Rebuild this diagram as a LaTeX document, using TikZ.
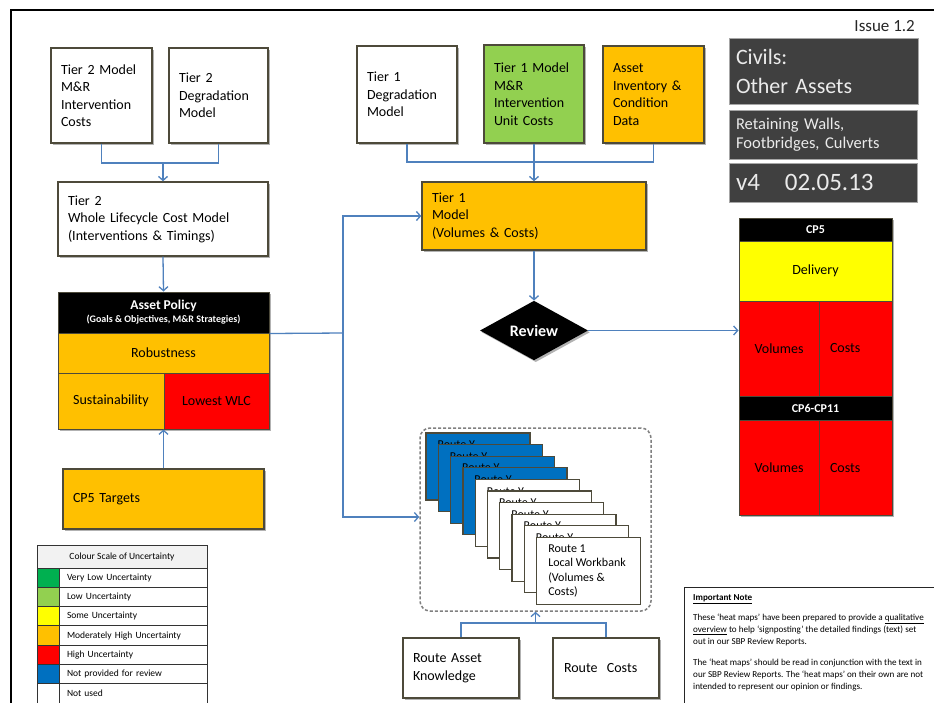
\documentclass[tikz,border=0pt]{standalone}
\usepackage{fontspec}
\setmainfont{Carlito}
\usetikzlibrary{arrows.meta,shapes.geometric,shadows,calc}

\definecolor{edge}{HTML}{4D4A3A}
\definecolor{linkblue}{HTML}{4F81BD}
\definecolor{amber}{HTML}{FFC000}
\definecolor{leaf}{HTML}{92D050}
\definecolor{hired}{HTML}{FF0000}
\definecolor{sun}{HTML}{FFFF00}
\definecolor{deepgreen}{HTML}{00B050}
\definecolor{navy}{HTML}{0070C0}
\definecolor{slate}{HTML}{404040}
\definecolor{hdrgray}{HTML}{F2F2F2}

\begin{document}
\begin{tikzpicture}[x=1pt,y=-1pt,
  shad/.style={drop shadow={shadow xshift=1.8pt,shadow yshift=-1.8pt,opacity=0.3,fill=black}},
  box/.style={rectangle,draw=edge,line width=1.4pt,fill=white,align=left,
    inner xsep=10pt,inner ysep=0pt,font=\fontsize{14}{17.5}\selectfont,shad},
  cell/.style={rectangle,draw=edge,line width=1pt,inner sep=0pt,
    font=\fontsize{14}{17}\selectfont},
  head/.style={cell,fill=black,text=white,font=\fontsize{12}{14}\selectfont\bfseries},
  titlebox/.style={rectangle,draw=gray!70,line width=0.8pt,fill=slate,text=white!92!black,
    align=left,inner xsep=7pt,inner ysep=0pt},
  card/.style={rectangle,draw=edge,line width=1.3pt,minimum width=104pt,minimum height=67pt,inner sep=0pt},
  cardtag/.style={inner sep=0pt,font=\fontsize{12}{14.5}\selectfont},
  lgcell/.style={rectangle,draw=black!80,line width=1pt,minimum height=19.3pt,inner xsep=8pt,
    inner ysep=0pt,font=\fontsize{9.5}{11}\selectfont},
  link/.style={draw=linkblue,line width=1.3pt},
  arr/.style={link,-{Straight Barb[length=4pt,width=9pt]}}
]
\useasboundingbox (0,0) rectangle (934,702);
\fill[white] (0,0) rectangle (934,702);

% page frame
\draw[line width=2pt] (11,705) -- (11,10) -- (940,10);

% ---- Tier 2 chain ----
\node[box,minimum width=101pt,minimum height=95pt,text width=81pt] (t2mr) at (101.5,95.5)
  {Tier 2 Model\\M\&R\\Intervention\\Costs};
\node[box,minimum width=99pt,minimum height=95pt,text width=79pt] (t2deg) at (218.5,95.5)
  {Tier 2\\Degradation\\Model};
\node[box,minimum width=210pt,minimum height=74pt,text width=190pt] (t2wlc) at (163,219)
  {Tier 2\\Whole Lifecycle Cost Model\\(Interventions \& Timings)};

% ---- Asset policy block ----
\node[fill=white,shad,minimum width=211pt,minimum height=137pt,inner sep=0pt] (apFrame) at (163.5,360.5) {};
\node[head,minimum width=211pt,minimum height=41pt,align=center] (apHead) at (163.5,312.5)
  {{\fontsize{13.5}{16}\selectfont\bfseries Asset Policy}\\[-1pt]{\fontsize{10}{12}\selectfont\bfseries (Goals \& Objectives, M\&R Strategies)}};
\node[cell,fill=amber,minimum width=211pt,minimum height=40pt] (apRob) at (163.5,353) {Robustness};
\node[cell,fill=amber,minimum width=106pt,minimum height=56pt] (apSus) at (111,401) {Sustainability};
\node[cell,fill=hired,minimum width=105pt,minimum height=56pt] (apWlc) at (216.5,401) {Lowest WLC};

\node[box,fill=amber,minimum width=201pt,minimum height=60pt,text width=181pt] (cp5t) at (163.5,499)
  {CP5 Targets};

% ---- Tier 1 chain ----
\node[box,minimum width=100pt,minimum height=97pt,text width=80pt] (t1deg) at (407,94.5)
  {Tier 1\\Degradation\\Model};
\node[box,fill=leaf,minimum width=100pt,minimum height=98pt,text width=80pt] (t1mr) at (534,94)
  {Tier 1 Model\\M\&R\\Intervention\\Unit Costs};
\node[box,fill=amber,minimum width=101pt,minimum height=97pt,text width=81pt] (t1inv) at (653.5,94.5)
  {Asset\\Inventory \&\\Condition\\Data};
\node[box,fill=amber,minimum width=224pt,minimum height=68pt,text width=204pt] (t1mod) at (534,216)
  {Tier 1\\Model\\(Volumes \& Costs)};
\node[diamond,fill=black,shad,minimum width=108pt,minimum height=55pt,inner sep=0pt,
  text=white,font=\fontsize{16}{18}\selectfont\bfseries] (review) at (534,330.5) {Review};

% ---- Title panel ----
\node[anchor=east,inner sep=0pt,font=\fontsize{17}{20}\selectfont,text=black!85] (issue) at (915,26) {Issue 1.2};
\node[titlebox,minimum width=189pt,minimum height=66pt,text width=175pt,
  font=\fontsize{22}{29}\selectfont] (ttl1) at (823.5,71) {Civils:\\Other Assets};
\node[titlebox,minimum width=188pt,minimum height=49pt,text width=174pt,
  font=\fontsize{16.5}{19}\selectfont] (ttl2) at (823,134.5) {Retaining Walls,\\Footbridges, Culverts};
\node[titlebox,minimum width=188pt,minimum height=39pt,text width=174pt,
  font=\fontsize{25}{28}\selectfont] (ttl3) at (823,182.5) {v4\hspace{25pt}02.05.13};

% ---- CP5 / CP6-CP11 block ----
\node[fill=white,shad,minimum width=153pt,minimum height=297pt,inner sep=0pt] (cpFrame) at (815.5,366.5) {};
\node[head,minimum width=153pt,minimum height=23pt] (cpHead) at (815.5,229.5) {CP5};
\node[cell,fill=sun,minimum width=153pt,minimum height=60pt] (cpDel) at (815.5,271) {Delivery};
\node[cell,fill=hired,minimum width=80pt,minimum height=95pt] (cpVol) at (779,348.5) {Volumes};
\node[cell,fill=hired,minimum width=73pt,minimum height=95pt,text width=51pt,inner xsep=11pt,align=left]
  (cpCost) at (855.5,348.5) {Costs};
\node[head,minimum width=153pt,minimum height=24pt] (cp6Head) at (815.5,408) {CP6-CP11};
\node[cell,fill=hired,minimum width=80pt,minimum height=95pt] (cp6Vol) at (779,467.5) {Volumes};
\node[cell,fill=hired,minimum width=73pt,minimum height=95pt,text width=51pt,inner xsep=11pt,align=left]
  (cp6Cost) at (855.5,467.5) {Costs};

% ---- Route workbanks ----
\node[draw=black!50,line width=1.5pt,dash pattern=on 3pt off 2pt,rounded corners=10pt,
  minimum width=231pt,minimum height=183pt] (wbank) at (535.5,519.5) {};
\foreach \i in {0,...,9} {
  \pgfmathsetmacro{\cx}{478+12.3*\i}
  \pgfmathsetmacro{\cy}{466.5+11.6*\i}
  \ifnum\i<4 \def\cardfill{navy}\else\def\cardfill{white}\fi
  \node[card,fill=\cardfill] (card\i) at (\cx,\cy) {};
  \ifnum\i<9
    \node[cardtag,anchor=north west] (tag\i) at ($(card\i.north west)+(12,8.5)$) {Route Y};
  \fi
}
\node[anchor=west,align=left,inner sep=0pt,font=\fontsize{12}{14.5}\selectfont] (card9txt)
  at ($(card9.west)+(12,0)$) {Route 1\\Local Workbank\\(Volumes \&\\Costs)};

\node[box,minimum width=116pt,minimum height=60pt,text width=96pt] (rak) at (461,668)
  {Route Asset\\Knowledge};
\node[box,minimum width=106pt,minimum height=60pt,text width=84pt,inner xsep=11pt] (rcost) at (606,668)
  {Route\ \ Costs};

% ---- Legend ----
\node[lgcell,fill=hdrgray,minimum width=170pt,minimum height=23pt] (lgHead) at (122,556.5)
  {Colour Scale of Uncertainty};
\foreach \c/\t [count=\k from 0] in {deepgreen/Very Low Uncertainty,leaf/Low Uncertainty,
    sun/Some Uncertainty,amber/Moderately High Uncertainty,hired/High Uncertainty,
    navy/Not provided for review,white/Not used} {
  \pgfmathsetmacro{\ry}{577.65+19.3*\k}
  \node[lgcell,fill=\c,minimum width=22pt] (sw\k) at (48,\ry) {};
  \node[lgcell,text width=132pt,align=left] (lt\k) at (133,\ry) {\t};
}

% ---- Note ----
\node[draw=black!85,line width=1.2pt,anchor=north west,minimum width=270pt,minimum height=130pt] (note) at (684,587) {};
\node[anchor=north west,align=left,inner sep=0pt,font=\fontsize{9.1}{12}\selectfont] (notetxt) at (693,594.5)
  {\textbf{\underline{Important Note}}\\[8pt]
   These `heat maps' have been prepared to provide a \underline{qualitative}\\
   \underline{overview} to help `signposting' the detailed findings (text) set\\
   out in our SBP Review Reports.\\[9pt]
   The `heat maps' should be read in conjunction with the text in\\
   our SBP Review Reports. The `heat maps' on their own are not\\
   intended to represent our opinion or findings.};

% ---- Connectors ----
\coordinate (j1) at (163,163);
\draw[link] (t2mr.south) |- (j1) -| (t2deg.south);
\draw[arr] (j1) -- (t2wlc.north);
\draw[arr] (t2wlc.south) -- (apHead.north);
\draw[arr] (cp5t.north) -- (cp5t.north |- apSus.south);

\coordinate (bus) at (343,333);
\draw[link] (apHead.south east) -- (bus);
\draw[arr] (bus) |- (t1mod.west);
\draw[arr] (bus) |- ($(wbank.west)+(0,-2.5)$);

\coordinate (j2) at (534,162);
\draw[link] (t1deg.south) |- (j2) -| (t1inv.south);
\draw[link] (t1mr.south) -- (j2);
\draw[arr] (j2) -- (t1mod.north);
\draw[arr] (t1mod.south) -- (review.north);
\draw[arr] (review.east) -- (review.east -| cpVol.west);

\coordinate (j3) at (535.5,623);
\draw[link] (rak.north) |- (j3) -| (rcost.north);
\draw[arr] (j3) -- (wbank.south);
\end{tikzpicture}
\end{document}
